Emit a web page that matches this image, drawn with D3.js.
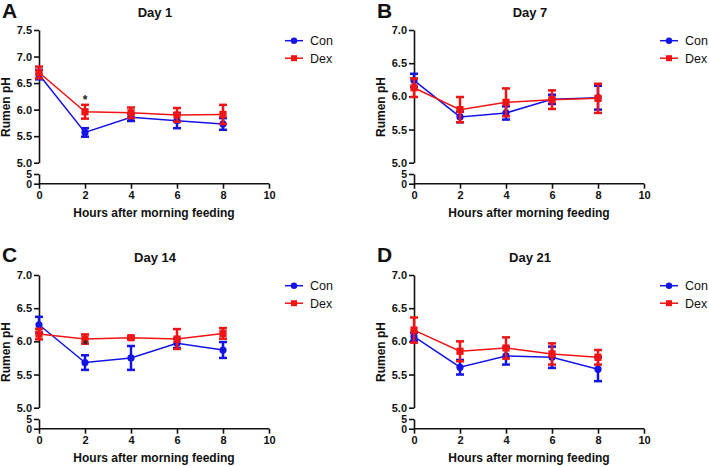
<!DOCTYPE html>
<html>
<head>
<meta charset="utf-8">
<script src="https://cdn.jsdelivr.net/npm/d3@7"></script>
<style>
  body { margin: 0; background: #fff; }
  svg text { font-family: "Liberation Sans", Arial, sans-serif; }
</style>
</head>
<body>
<div id="chart"></div>
<script>
// data
var hours = [0, 2, 4, 6, 8];
var xTicks = [0, 2, 4, 6, 8, 10];
var panelLetters = ["A", "B", "C", "D"];
var panelTitles = ["Day 1", "Day 7", "Day 14", "Day 21"];
var yMaxes = [7.5, 7.0, 7.0, 7.0];
var seriesNames = ["Con", "Dex"];

var conMean = [
  [6.66, 5.57, 5.855, 5.79, 5.73],
  [6.24, 5.69, 5.75, 5.955, 5.98],
  [6.25, 5.68, 5.75, 5.97, 5.87],
  [6.07, 5.61, 5.78, 5.76, 5.58]
];
var conErr = [
  [0.09, 0.08, 0.07, 0.14, 0.11],
  [0.10, 0.08, 0.10, 0.07, 0.18],
  [0.12, 0.11, 0.18, 0.07, 0.12],
  [0.06, 0.11, 0.13, 0.16, 0.18]
];
var dexMean = [
  [6.70, 5.96, 5.94, 5.90, 5.91],
  [6.13, 5.80, 5.91, 5.95, 5.97],
  [6.11, 6.035, 6.055, 6.035, 6.12],
  [6.17, 5.85, 5.90, 5.81, 5.76]
];
var dexErr = [
  [0.11, 0.13, 0.10, 0.13, 0.18],
  [0.14, 0.19, 0.21, 0.14, 0.22],
  [0.08, 0.07, 0.02, 0.15, 0.08],
  [0.19, 0.15, 0.16, 0.16, 0.11]
];
var starHours = [[2], [], [2], []];

var colors = ["#1414e6", "#f01414"];

var svg = d3.select("#chart").append("svg")
    .attr("width", 709)
    .attr("height", 466);

var offsets = [[0, 0], [375, 0], [0, 245], [375, 245]];

var axX = 39, plotTop = 30, brk = 162.7, lowTop = 174, base = 183.7;

for (var p = 0; p < 4; p++) {
  var ox = offsets[p][0], oy = offsets[p][1];
  var g = svg.append("g").attr("transform", "translate(" + ox + "," + oy + ")");

  var x = d3.scaleLinear().domain([0, 10]).range([axX, axX + 230]);
  var y = d3.scaleLinear().domain([5, yMaxes[p]]).range([brk, plotTop]);
  var yLow = d3.scaleLinear().domain([0, 5]).range([base, lowTop]);

  var upperTicks = d3.range(5, yMaxes[p] + 0.01, 0.5);

  // upper y axis
  var yAxis = d3.axisLeft(y).tickValues(upperTicks).tickFormat(d3.format(".1f"))
      .tickSizeInner(5).tickSizeOuter(0).tickPadding(2);
  var ya = g.append("g").attr("transform", "translate(" + axX + ",0)").call(yAxis);

  // lower y axis segment (axis break)
  var yLowAxis = d3.axisLeft(yLow).tickValues([0, 5]).tickFormat(d3.format("d"))
      .tickSizeInner(5).tickSizeOuter(0).tickPadding(2);
  var yl = g.append("g").attr("transform", "translate(" + axX + ",0)").call(yLowAxis);

  // x axis
  var xAxis = d3.axisBottom(x).tickValues(xTicks).tickFormat(d3.format("d"))
      .tickSizeInner(5).tickSizeOuter(0).tickPadding(3);
  var xa = g.append("g").attr("transform", "translate(0," + base + ")").call(xAxis);

  [ya, yl, xa].forEach(function(a) {
    a.selectAll("path, line").attr("stroke", "#111").attr("stroke-width", 1.6);
    a.selectAll("text").attr("fill", "#111").attr("font-size", 11)
        .attr("font-weight", "bold");
  });
  yl.selectAll("text").attr("font-size", 10.5);
  xa.select("path").attr("d", "M" + axX + ",0H" + (axX + 230));

  // titles and labels
  g.append("text").text(panelLetters[p])
      .attr("x", 2).attr("y", 18 + (p > 1 ? -1 : 0))
      .attr("font-size", 21).attr("font-weight", "bold").attr("fill", "#111");

  g.append("text").text(panelTitles[p])
      .attr("x", axX + 116).attr("y", 17)
      .attr("text-anchor", "middle")
      .attr("font-size", 13).attr("font-weight", "bold").attr("fill", "#111");

  g.append("text").text("Hours after morning feeding")
      .attr("x", axX + 115).attr("y", base + 33)
      .attr("text-anchor", "middle")
      .attr("font-size", 12).attr("font-weight", "bold").attr("fill", "#111");

  g.append("text").text("Rumen pH")
      .attr("transform", "translate(" + (axX - 29) + ",107) rotate(-90)")
      .attr("text-anchor", "middle")
      .attr("font-size", 12).attr("font-weight", "bold").attr("fill", "#111");

  // series
  var means = [conMean[p], dexMean[p]];
  var errs = [conErr[p], dexErr[p]];

  for (var s = 0; s < 2; s++) {
    var pts = hours.map(function(h, i) {
      return { h: h, m: means[s][i], e: errs[s][i] };
    });
    var sg = g.append("g");

    sg.append("path").datum(pts)
        .attr("fill", "none")
        .attr("stroke", colors[s])
        .attr("stroke-width", 1.5)
        .attr("d", d3.line().x(function(d) { return x(d.h); }).y(function(d) { return y(d.m); }));

    var eb = sg.selectAll(".eb").data(pts).enter().append("g");
    eb.append("line")
        .attr("x1", function(d) { return x(d.h); })
        .attr("x2", function(d) { return x(d.h); })
        .attr("y1", function(d) { return y(d.m - d.e); })
        .attr("y2", function(d) { return y(d.m + d.e); })
        .attr("stroke", colors[s]).attr("stroke-width", 2.5);
    [-1, 1].forEach(function(sign) {
      eb.append("line")
          .attr("x1", function(d) { return x(d.h) - 4; })
          .attr("x2", function(d) { return x(d.h) + 4; })
          .attr("y1", function(d) { return y(d.m + sign * d.e); })
          .attr("y2", function(d) { return y(d.m + sign * d.e); })
          .attr("stroke", colors[s]).attr("stroke-width", 2.5);
    });

    if (s === 0) {
      sg.selectAll(".pt").data(pts).enter().append("circle")
          .attr("cx", function(d) { return x(d.h); })
          .attr("cy", function(d) { return y(d.m); })
          .attr("r", 3.6)
          .attr("fill", colors[s]);
    } else {
      sg.selectAll(".pt").data(pts).enter().append("rect")
          .attr("x", function(d) { return x(d.h) - 3.6; })
          .attr("y", function(d) { return y(d.m) - 3.6; })
          .attr("width", 7.2).attr("height", 7.2)
          .attr("fill", colors[s]);
    }

    // legend
    var ly = plotTop + 10.7 + s * 17.5;
    var lx = axX + 246;
    g.append("line")
        .attr("x1", lx).attr("x2", lx + 18)
        .attr("y1", ly).attr("y2", ly)
        .attr("stroke", colors[s]).attr("stroke-width", 1.5);
    if (s === 0) {
      g.append("circle").attr("cx", lx + 9).attr("cy", ly).attr("r", 3.2).attr("fill", colors[s]);
    } else {
      g.append("rect").attr("x", lx + 6).attr("y", ly - 3).attr("width", 6).attr("height", 6).attr("fill", colors[s]);
    }
    g.append("text").text(seriesNames[s])
        .attr("x", lx + 25).attr("y", ly + 4.5)
        .attr("font-size", 12.5).attr("fill", "#111");
  }

  // significance marks
  starHours[p].forEach(function(h) {
    g.append("text").text("*")
        .attr("x", x(h)).attr("y", plotTop + 74)
        .attr("text-anchor", "middle")
        .attr("font-size", 12).attr("font-weight", "bold").attr("fill", "#222");
  });
}
</script>
</body>
</html>
